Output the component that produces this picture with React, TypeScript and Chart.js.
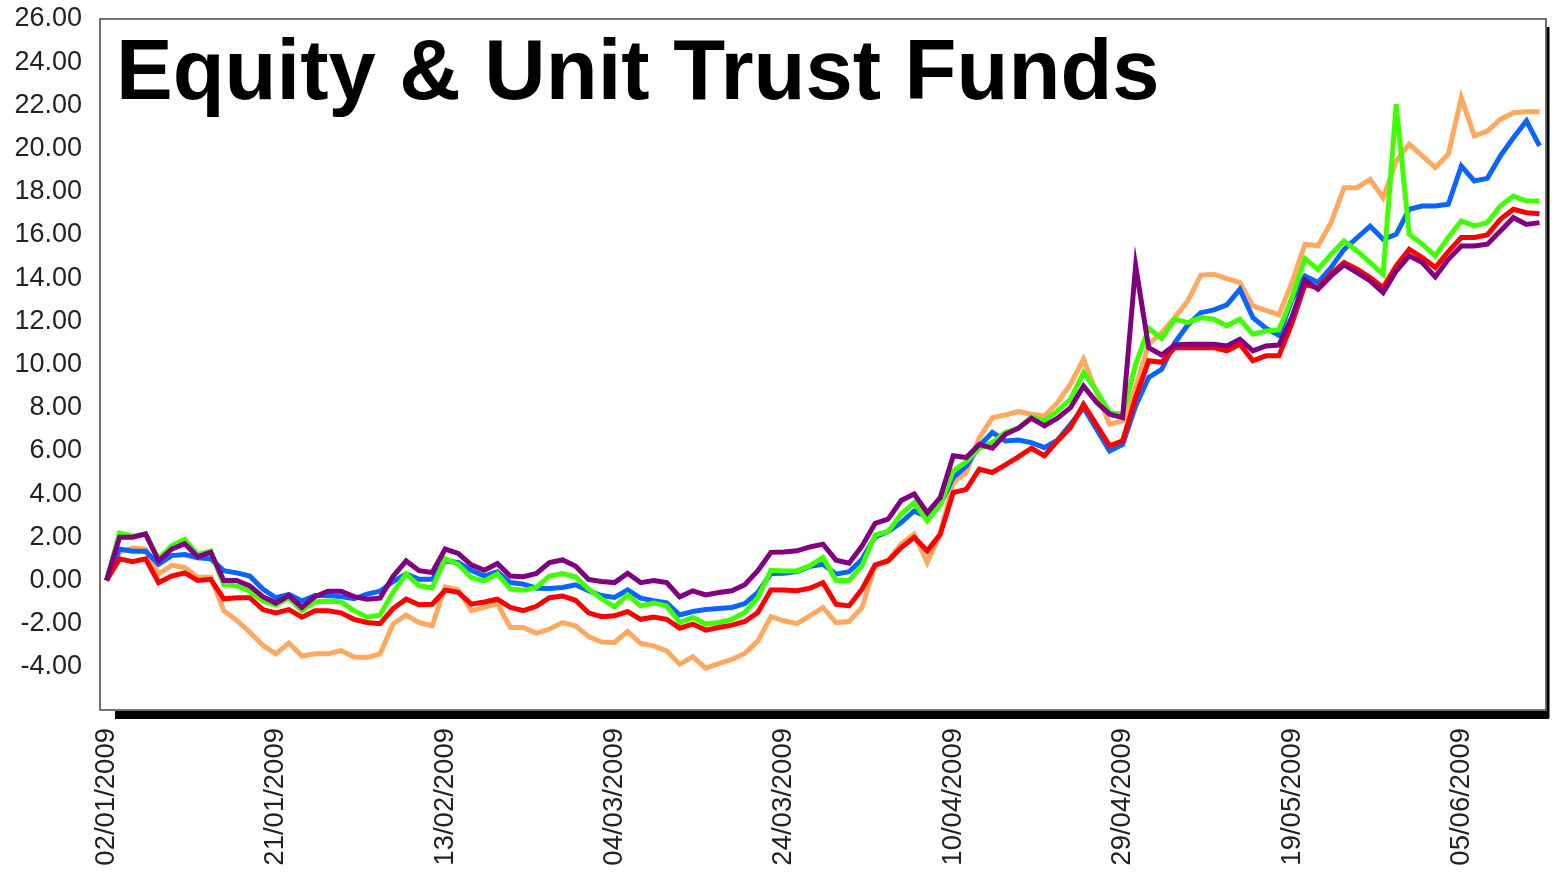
import React, { useEffect, useRef } from "react";
import { Chart, registerables } from "chart.js";

Chart.register(...registerables);

const TITLE = "Equity & Unit Trust Funds";

const dates: string[] = [
  "02/01/2009", "05/01/2009", "06/01/2009", "07/01/2009", "08/01/2009", "09/01/2009", "12/01/2009", "13/01/2009", "14/01/2009", "15/01/2009",
  "16/01/2009", "19/01/2009", "20/01/2009", "21/01/2009", "22/01/2009", "23/01/2009", "28/01/2009", "29/01/2009", "30/01/2009", "03/02/2009",
  "04/02/2009", "05/02/2009", "06/02/2009", "10/02/2009", "11/02/2009", "12/02/2009", "13/02/2009", "16/02/2009", "17/02/2009", "18/02/2009",
  "19/02/2009", "20/02/2009", "23/02/2009", "24/02/2009", "25/02/2009", "26/02/2009", "27/02/2009", "02/03/2009", "03/03/2009", "04/03/2009",
  "05/03/2009", "06/03/2009", "10/03/2009", "11/03/2009", "12/03/2009", "13/03/2009", "16/03/2009", "17/03/2009", "18/03/2009", "19/03/2009",
  "20/03/2009", "23/03/2009", "24/03/2009", "25/03/2009", "26/03/2009", "27/03/2009", "30/03/2009", "31/03/2009", "01/04/2009", "02/04/2009",
  "03/04/2009", "06/04/2009", "07/04/2009", "08/04/2009", "09/04/2009", "10/04/2009", "13/04/2009", "14/04/2009", "15/04/2009", "16/04/2009",
  "17/04/2009", "20/04/2009", "21/04/2009", "22/04/2009", "23/04/2009", "24/04/2009", "27/04/2009", "28/04/2009", "29/04/2009", "30/04/2009",
  "04/05/2009", "05/05/2009", "06/05/2009", "07/05/2009", "08/05/2009", "11/05/2009", "12/05/2009", "13/05/2009", "14/05/2009", "15/05/2009",
  "18/05/2009", "19/05/2009", "20/05/2009", "21/05/2009", "22/05/2009", "25/05/2009", "26/05/2009", "27/05/2009", "28/05/2009", "29/05/2009",
  "01/06/2009", "02/06/2009", "03/06/2009", "04/06/2009", "05/06/2009", "08/06/2009", "09/06/2009", "10/06/2009", "11/06/2009", "12/06/2009",
  "15/06/2009",
];

const purple: number[] = [
  0.0, 2.0, 2.0, 2.15, 0.9, 1.45, 1.7, 1.1, 1.3, 0.0,
  0.0, -0.25, -0.75, -1.05, -0.7, -1.25, -0.75, -0.5, -0.5, -0.75,
  -0.87, -0.82, 0.2, 0.9, 0.45, 0.37, 1.45, 1.25, 0.72, 0.47,
  0.78, 0.2, 0.17, 0.32, 0.83, 0.95, 0.67, 0.05, -0.05, -0.1,
  0.33, -0.1, 0.0, -0.1, -0.76, -0.48, -0.67, -0.56, -0.48, -0.2,
  0.45, 1.3, 1.32, 1.37, 1.55, 1.68, 0.94, 0.8, 1.6, 2.64,
  2.84, 3.7, 4.0, 3.14, 3.84, 5.77, 5.69, 6.3, 6.12, 6.77,
  7.05, 7.51, 7.16, 7.51, 8.0, 9.0, 8.25, 7.7, 7.54, 14.57,
  10.78, 10.44, 10.9, 10.94, 10.94, 10.94, 10.86, 11.17, 10.63, 10.86,
  10.9, 12.2, 13.9, 13.48, 14.1, 14.61, 14.25, 13.87, 13.33, 14.33,
  15.03, 14.72, 14.06, 14.87, 15.49, 15.49, 15.57, 16.18, 16.8, 16.49,
  16.57,
];

const red: number[] = [
  0.0, 1.0, 0.87, 1.0, -0.1, 0.2, 0.35, 0.0, 0.05, -0.85,
  -0.8, -0.8, -1.35, -1.5, -1.35, -1.7, -1.4, -1.4, -1.5, -1.8,
  -1.95, -2.0, -1.3, -0.87, -1.13, -1.1, -0.45, -0.55, -1.1, -1.0,
  -0.87, -1.25, -1.4, -1.2, -0.8, -0.72, -0.92, -1.5, -1.68, -1.64,
  -1.44, -1.8, -1.69, -1.8, -2.21, -2.02, -2.3, -2.18, -2.07, -1.9,
  -1.49, -0.44, -0.44, -0.48, -0.36, -0.1, -1.1, -1.18, -0.4, 0.72,
  0.9, 1.52, 1.99, 1.37, 2.14, 4.07, 4.22, 5.15, 5.0, 5.35,
  5.72, 6.12, 5.77, 6.46, 7.08, 8.15, 7.2, 6.23, 6.46, 8.47,
  10.17, 10.1, 10.78, 10.78, 10.78, 10.78, 10.63, 10.94, 10.17, 10.4,
  10.4, 11.9, 13.7, 13.56, 14.2, 14.72, 14.41, 14.03, 13.56, 14.57,
  15.33, 14.95, 14.49, 15.23, 15.88, 15.88, 16.0, 16.72, 17.19, 17.03,
  16.98,
];

const green: number[] = [
  0.0, 2.2, 2.05, 2.15, 1.0, 1.6, 1.9, 1.2, 1.35, -0.2,
  -0.25, -0.5, -0.95, -1.15, -0.8, -1.4, -1.0, -0.95, -1.0, -1.4,
  -1.7, -1.6, -0.55, 0.3, -0.25, -0.35, 1.0, 0.75, 0.13, -0.02,
  0.3, -0.4, -0.45, -0.32, 0.2, 0.32, 0.17, -0.4, -0.85, -1.22,
  -0.67, -1.18, -1.05, -1.18, -1.95, -1.72, -2.02, -1.95, -1.8, -1.48,
  -0.79, 0.47, 0.44, 0.44, 0.68, 1.06, 0.0, 0.0, 0.68, 2.1,
  2.27, 3.07, 3.6, 2.76, 3.5, 5.07, 5.5, 6.12, 6.38, 6.85,
  7.05, 7.57, 7.39, 7.85, 8.39, 9.62, 8.78, 7.77, 7.7, 10.0,
  11.67, 11.2, 12.1, 11.94, 12.17, 12.1, 11.79, 12.1, 11.4, 11.55,
  11.6, 13.1, 14.9, 14.4, 15.1, 15.72, 15.26, 14.72, 14.18, 22.05,
  16.03, 15.57, 15.03, 15.88, 16.65, 16.42, 16.57, 17.34, 17.8, 17.57,
  17.57,
];

const blue: number[] = [
  0.0, 1.45, 1.35, 1.35, 0.75, 1.15, 1.2, 1.05, 1.0, 0.45,
  0.35, 0.2, -0.4, -0.8, -0.65, -0.95, -0.7, -0.7, -0.75, -0.85,
  -0.63, -0.5, -0.05, 0.3, 0.05, 0.05, 0.9, 0.83, 0.47, 0.2,
  0.4, -0.1, -0.17, -0.36, -0.37, -0.33, -0.2, -0.48, -0.7, -0.79,
  -0.44, -0.82, -0.94, -1.04, -1.6, -1.44, -1.35, -1.3, -1.25, -1.07,
  -0.56, 0.32, 0.33, 0.41, 0.65, 0.75, 0.29, 0.4, 0.98, 2.02,
  2.27, 2.68, 3.22, 2.94, 3.53, 4.77, 5.3, 6.23, 6.85, 6.46,
  6.5, 6.38, 6.15, 6.5, 7.23, 8.0, 7.0, 6.0, 6.3, 8.08,
  9.4, 9.78, 11.0, 11.83, 12.4, 12.53, 12.76, 13.48, 12.17, 11.68,
  11.35, 13.0, 14.1, 13.8, 14.49, 15.33, 15.87, 16.41, 15.8, 16.03,
  17.19, 17.34, 17.34, 17.42, 19.19, 18.5, 18.62, 19.66, 20.5, 21.28,
  20.12,
];

const orange: number[] = [
  0.0, 1.3, 1.5, 1.45, 0.3, 0.7, 0.6, 0.15, 0.15, -1.4,
  -1.85, -2.4, -3.0, -3.4, -2.9, -3.5, -3.4, -3.4, -3.25, -3.55,
  -3.57, -3.4, -2.02, -1.6, -1.95, -2.1, -0.3, -0.43, -1.4, -1.25,
  -1.07, -2.18, -2.18, -2.45, -2.25, -1.95, -2.1, -2.6, -2.85, -2.87,
  -2.36, -2.92, -3.03, -3.26, -3.88, -3.54, -4.06, -3.85, -3.66, -3.38,
  -2.8, -1.68, -1.87, -2.0, -1.64, -1.25, -1.95, -1.9, -1.25, 0.68,
  0.94, 1.68, 2.14, 0.83, 2.14, 4.53, 5.0, 6.6, 7.54, 7.66,
  7.82, 7.7, 7.62, 8.23, 9.09, 10.24, 8.7, 7.23, 7.39, 8.93,
  10.94, 11.48, 12.17, 12.94, 14.14, 14.18, 13.98, 13.79, 12.71, 12.51,
  12.3, 13.8, 15.57, 15.5, 16.57, 18.19, 18.19, 18.57, 17.72, 19.43,
  20.2, 19.66, 19.12, 19.74, 22.36, 20.58, 20.81, 21.35, 21.66, 21.7,
  21.7,
];

const yTicks = { min: -6, max: 26, step: 2 };
const labelEvery = 13;

const FONT = "'Liberation Sans', Arial, Helvetica, sans-serif";

const framePlugin = {
  id: "frame",
  afterDraw(chart: any) {
    const { ctx, chartArea } = chart;
    const { left, right, top, bottom } = chartArea;
    ctx.save();
    ctx.fillStyle = "#000";
    ctx.fillRect(left + 15, bottom + 1, right - left - 15 + 3, 8);
    ctx.fillRect(right + 0.5, top + 8, 3, bottom - top);
    ctx.strokeStyle = "#444";
    ctx.lineWidth = 1.5;
    ctx.strokeRect(left, top, right - left, bottom - top);
    ctx.fillStyle = "#000";
    ctx.font = `bold 85px ${FONT}`;
    ctx.textBaseline = "alphabetic";
    ctx.textAlign = "left";
    ctx.fillText(TITLE, left + 16, top + 80);
    ctx.restore();
  },
};

const zeroPad = (s: any) => {
  s.paddingTop = 0;
  s.paddingBottom = 0;
  s.paddingLeft = 0;
  s.paddingRight = 0;
};

export default function App() {
  const ref = useRef<HTMLCanvasElement | null>(null);
  useEffect(() => {
    document.body.style.margin = "0";
    const canvas = ref.current!;
    const mk = (label: string, data: number[], color: string, order: number) => ({
      label,
      data,
      borderColor: color,
      backgroundColor: color,
      borderWidth: 5,
      pointRadius: 0,
      tension: 0,
      fill: false,
      order,
    });
    const chart = new Chart(canvas, {
      type: "line",
      data: {
        labels: dates,
        datasets: [
          mk("Fund A", purple, "#800080", 0),
          mk("Fund B", red, "#ff0000", 1),
          mk("Fund C", green, "#40ff00", 2),
          mk("Fund D", blue, "#0a64ff", 3),
          mk("Fund E", orange, "#ffa860", 4),
        ],
      },
      plugins: [framePlugin],
      options: {
        animation: false,
        responsive: false,
        maintainAspectRatio: false,
        layout: { padding: { top: 19, right: 8, left: 0, bottom: 0 } },
        plugins: {
          legend: { display: false },
          tooltip: { enabled: false },
          title: { display: false },
        },
        scales: {
          x: {
            type: "category",
            offset: true,
            grid: { display: false, drawTicks: false },
            border: { display: false },
            ticks: {
              autoSkip: false,
              maxRotation: 90,
              minRotation: 90,
              padding: 18,
              color: "#222",
              font: { family: FONT, size: 27.5 },
              callback: (_v: any, i: number) => (i % labelEvery === 0 ? dates[i] : ""),
            },
            afterFit: (s: any) => {
              s.height = 872 - 710;
              zeroPad(s);
            },
          },
          y: {
            min: yTicks.min,
            max: yTicks.max,
            grid: { display: false, drawTicks: false },
            border: { display: false },
            ticks: {
              stepSize: yTicks.step,
              padding: 18,
              color: "#222",
              font: { family: FONT, size: 27 },
              callback: (v: any) => (Number(v) === yTicks.min ? "" : Number(v).toFixed(2)),
            },
            afterFit: (s: any) => {
              s.width = 100;
              zeroPad(s);
            },
          },
        },
      },
    });
    return () => chart.destroy();
  }, []);
  return <canvas ref={ref} width={1554} height={872} style={{ display: "block" }} />;
}
